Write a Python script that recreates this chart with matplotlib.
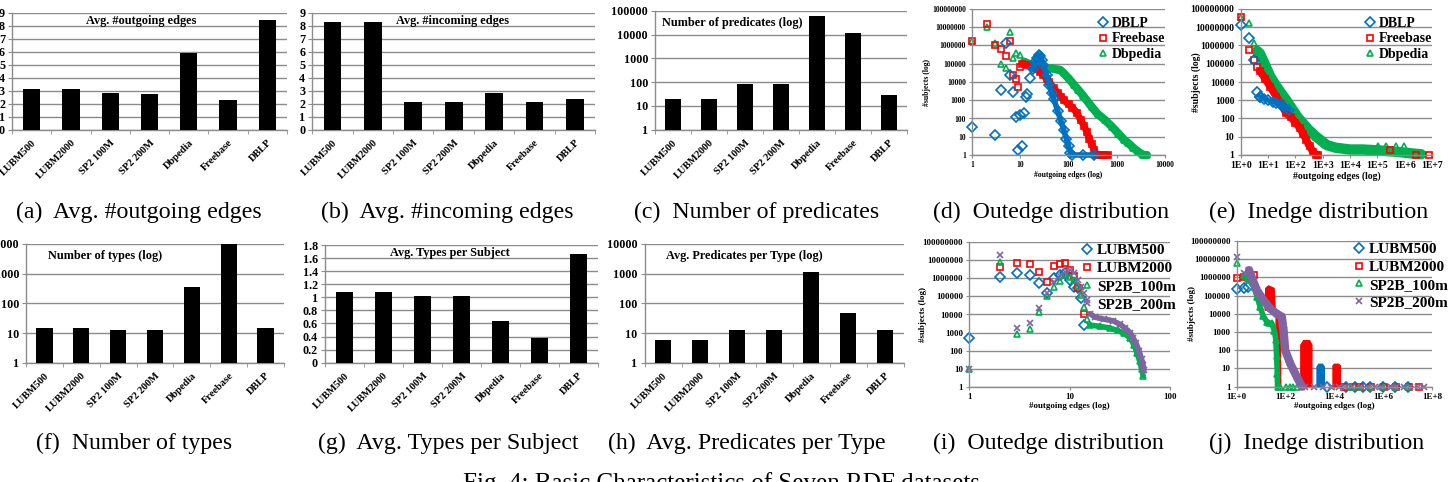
import numpy as np
import matplotlib
matplotlib.use("Agg")
import matplotlib.pyplot as plt
from matplotlib.lines import Line2D
from matplotlib.ticker import NullLocator

plt.rcParams['font.family'] = 'serif'
plt.rcParams['font.serif'] = ['Liberation Serif', 'DejaVu Serif']

# %% bar chart data
datasets = ['LUBM500', 'LUBM2000', 'SP2 100M', 'SP2 200M', 'Dbpedia', 'Freebase', 'DBLP']
avg_out_edges = [3.13, 3.13, 2.85, 2.77, 5.87, 2.28, 8.4]
avg_in_edges = [8.26, 8.26, 2.13, 2.13, 2.82, 2.13, 2.38]
num_predicates = [19, 19, 84, 84, 63000, 12000, 30]
num_types = [15, 15, 13, 13, 365, 10000, 15]
types_per_subject = [1.08, 1.08, 1.02, 1.02, 0.64, 0.38, 1.66]
preds_per_type = [5.8, 5.8, 13, 13, 1170, 46, 13]

# %% (d) outedge distribution: single points + dense band
d_dblp_x = [1, 3, 4, 5, 6, 7, 8, 9, 10, 11, 12, 13, 14, 16]
d_dblp_y = [35, 12, 3600, 1.4e6, 2.4e4, 3000, 126, 2, 150, 3, 190, 1600, 2300, 1.6e4]
d_dblp_band_x = [18, 20, 22, 24, 26, 28, 30, 35, 40, 45, 50, 60, 70, 80, 90, 100, 110, 120, 200, 330]
d_dblp_band_y = [5e4, 1.2e5, 2e5, 3e5, 2.8e5, 1.6e5, 9e4, 2.4e4, 7000, 2500, 1100, 250, 70, 23, 8, 3, 1.3, 1, 1, 1]
d_fb_x = [1, 2, 3, 4, 5, 6, 7, 8, 9, 10]
d_fb_y = [1.8e6, 1.5e7, 1.07e6, 6.2e5, 2.6e5, 1.8e6, 2.4e4, 1.4e4, 5000, 7e4]
d_fb_band_x = [11, 14, 18, 22, 26, 30, 35, 40, 50, 60, 70, 80, 100, 120, 150, 180, 210, 240, 270, 300, 340, 380, 450, 550, 670]
d_fb_band_y = [1e5, 9e4, 7e4, 5e4, 3.5e4, 2.5e4, 1.5e4, 1e4, 4500, 2500, 1600, 1000, 600, 400, 200, 80, 40, 18, 8, 4, 2, 1, 1, 1, 1]
d_dbp_x = [1, 2, 3, 4, 5, 6, 7, 8, 10]
d_dbp_y = [1.8e6, 1e7, 1.3e6, 1e5, 5.6e4, 5.5e6, 2.2e5, 3.7e5, 3e5]
d_dbp_band_x = [12, 15, 20, 28, 35, 45, 55, 67, 80, 100, 130, 160, 200, 300, 400, 570, 800, 1080, 1400, 1740, 2200, 2800, 3500, 4200]
d_dbp_band_y = [1.3e5, 1e5, 7e4, 4.6e4, 5e4, 5.6e4, 5e4, 4.6e4, 3e4, 1.6e4, 7000, 3700, 1800, 450, 180, 83, 35, 15, 7, 4.4, 2.5, 1.5, 1, 1]

# %% (e) inedge distribution
e_dblp_x = [1, 2, 3, 4, 5]
e_dblp_y = [1.3e7, 2.5e6, 1.6e5, 3000, 1600]
e_dblp_band_x = [5, 7, 10, 15, 20, 30, 40, 60]
e_dblp_band_y = [1600, 1200, 1000, 800, 700, 550, 450, 300]
e_fb_x = [1, 2, 3, 4, 280000, 2600000, 7500000]
e_fb_y = [3.5e7, 6e5, 1.6e5, 7e4, 2, 1, 1]
e_fb_band_x = [5, 8, 12, 20, 30, 47, 70, 100, 150, 190, 250, 330, 450, 580, 680]
e_fb_band_y = [4e4, 1.5e4, 5500, 1600, 600, 190, 115, 60, 29, 15, 7, 3, 1.5, 1, 1]
e_dbp_x = [1, 2, 3, 4, 110000, 210000, 490000, 980000, 3000000]
e_dbp_y = [3.5e7, 1.8e7, 1.3e6, 5e5, 3, 3, 3, 3, 1]
e_dbp_band_x = [4, 5, 8, 12, 20, 30, 47, 80, 120, 190, 300, 580, 900, 1400, 3000, 1e4, 3e4, 1e5, 3e5, 8e5, 2e6, 4e6]
e_dbp_band_y = [5e5, 3.7e5, 8e4, 2e4, 6000, 2500, 1000, 300, 120, 55, 25, 10, 6, 3.5, 2.5, 2, 2, 1.8, 1.6, 1.4, 1.2, 1.1]

# %% (i) outedge distribution, benchmarks
i_l500_x = [1, 2, 3, 4, 5, 6, 7, 8, 9, 10, 11, 12, 13, 14]
i_l500_y = [480, 1.25e6, 1.9e6, 1.6e6, 5.9e5, 1.6e5, 1e6, 1.6e6, 1.9e6, 8e5, 3.5e5, 3e5, 8e4, 2600]
i_l2000_x = [2, 3, 4, 5, 6, 7, 8, 9, 10, 11, 12, 14]
i_l2000_y = [4.5e6, 7.5e6, 6e6, 2.3e6, 6e5, 5e6, 6.5e6, 7e6, 3e6, 1.3e6, 2.8e5, 1e4]
i_sp100_x = [1, 2, 3, 4, 5, 6, 7, 8, 9, 10, 11, 12, 13, 14, 15]
i_sp100_y = [9, 8.5e6, 830, 1500, 1.3e4, 1e5, 3.5e5, 7.5e5, 1.5e6, 1.2e6, 8e5, 4e5, 1.2e5, 2.7e4, 6000]
i_sp100_band_x = [16, 20, 25, 30, 35, 40, 44, 47, 50, 52, 54]
i_sp100_band_y = [2600, 2200, 1800, 1300, 900, 500, 200, 70, 25, 10, 4]
i_sp200_x = [1, 2, 3, 4, 5, 6, 7, 8, 9, 10, 11, 12, 13, 14, 15]
i_sp200_y = [10, 2e7, 1700, 3500, 2.2e4, 1.6e5, 6e5, 1.3e6, 2.4e6, 3e6, 2e6, 8e5, 3.5e5, 1.5e5, 6e4]
i_sp200_band_x = [16, 18, 22, 27, 32, 36, 40, 43, 46, 49, 52, 54, 55]
i_sp200_band_y = [1.1e4, 7000, 5500, 4500, 2800, 1700, 1000, 500, 250, 100, 35, 15, 8]

# %% (j) inedge distribution, benchmarks (blobs = dense noisy regions, outline read off)
j_l500_x = [1, 2, 3, 5000, 30000, 70000, 150000, 300000, 1e6, 3e6, 1e7]
j_l500_y = [2.2e5, 2.5e5, 3e5, 1, 1, 1, 1, 1, 1, 1, 1]
j_l500_blob_x = [1950, 1950, 2300, 3300, 3900, 3900]
j_l500_blob_y = [1, 12, 17, 17, 12, 1]
j_l2000_x = [1, 2, 5, 25000, 60000, 110000, 320000, 1.1e6, 3.2e6, 1.1e7, 3e7]
j_l2000_y = [9e5, 1e6, 1.3e6, 1, 1, 1, 1, 1, 1, 1, 1]
j_l2000_blob1_x = [14.6, 15.5, 20, 34, 37.6, 60, 64, 41, 41]
j_l2000_blob1_y = [1.6e4, 2.5e5, 3.4e5, 2.5e5, 2e4, 2000, 1, 1, 1.6e4]
j_l2000_blob2_x = [424, 424, 550, 970, 1200, 1200]
j_l2000_blob2_y = [1, 195, 335, 335, 195, 1]
j_l2000_blob3_x = [8800, 8800, 10000, 15000, 17600, 17600]
j_l2000_blob3_y = [1, 14, 17, 17, 14, 1]
j_sp100_x = [1, 2, 60, 100, 150, 200, 300, 50000, 100000, 300000, 1e6, 3e6, 1e7]
j_sp100_y = [6e6, 1.3e6, 1, 1, 1, 1, 1, 1, 1, 1, 1, 1, 1]
j_sp100_band_x = [2, 3, 5, 7, 9, 12, 17, 22, 27, 35, 40, 43, 46, 47]
j_sp100_band_y = [1.3e6, 8e5, 3e5, 8e4, 2.5e4, 8000, 3700, 3000, 3000, 1200, 370, 50, 5, 1]
j_sp200_x = [1, 2, 650, 1400, 3300, 7000, 16000, 28000, 55000, 120000, 230000, 480000, 900000, 2e6, 3.5e6, 7e6, 1.3e7, 2.6e7, 4.5e7]
j_sp200_y = [1.4e7, 1.7e6, 1, 1, 1, 1, 1, 1, 1, 1, 1, 1, 1, 1, 1, 1, 1, 1, 1]
j_sp200_band_x = [3.2, 6.6, 12.5, 23, 44, 70, 83, 97, 155, 290, 470]
j_sp200_band_y = [2.5e6, 2e5, 5.7e4, 2e4, 1e4, 7000, 1300, 100, 19, 3.5, 1]

# %% styling
W, H = 1456, 482
BLUE, RED, GREEN, PURPLE = '#0070C0', '#FF0000', '#00B050', '#8064A2'
GRID = '#8C8C8C'

fig = plt.figure(figsize=(W / 100, H / 100), dpi=100)


def add_ax(l, t, r, b):
    return fig.add_axes([l / W, 1 - b / H, (r - l) / W, (b - t) / H])


def style_axes(ax):
    for s in ['top', 'right']:
        ax.spines[s].set_visible(False)
    for s in ['left', 'bottom']:
        ax.spines[s].set_color(GRID)
        ax.spines[s].set_linewidth(1.0)
    ax.grid(axis='y', color=GRID, lw=1.0)
    ax.set_axisbelow(True)


def bar_panel(rect, vals, log, yticks, ylabels):
    ax = add_ax(*rect)
    x = np.arange(len(datasets))
    ax.bar(x, vals, width=0.44, color='black', zorder=3, log=log)
    style_axes(ax)
    ax.set_xlim(-0.5, len(datasets) - 0.5)
    ax.set_ylim(yticks[0], yticks[-1])
    ax.set_yticks(yticks, ylabels)
    ax.yaxis.set_minor_locator(NullLocator())
    ax.set_xticks(x, datasets)
    ax.set_xticks(np.arange(len(datasets) + 1) - 0.5, minor=True)
    ax.tick_params(axis='x', which='major', length=0, pad=6)
    ax.tick_params(axis='x', which='minor', length=3, color=GRID)
    ax.tick_params(axis='y', length=3, color=GRID, pad=2, labelsize=8.7)
    for lbl in ax.get_yticklabels():
        lbl.set_fontweight('bold')
    for lbl in ax.get_xticklabels():
        lbl.set_rotation(45)
        lbl.set_ha('right')
        lbl.set_va('top')
        lbl.set_rotation_mode('anchor')
        lbl.set_fontsize(7.5)
        lbl.set_fontweight('bold')
    return ax


def scatter_panel(rect, xticks, xlabels, fs):
    ax = add_ax(*rect)
    ax.set_xscale('log')
    ax.set_yscale('log')
    style_axes(ax)
    ax.set_xlim(xticks[0], xticks[-1])
    ax.set_ylim(1, 1e8)
    yt = [10 ** k for k in range(9)]
    ax.set_yticks(yt, [str(v) for v in yt])
    ax.set_xticks(xticks, xlabels)
    ax.xaxis.set_minor_locator(NullLocator())
    ax.yaxis.set_minor_locator(NullLocator())
    ax.tick_params(length=2.5, color=GRID, pad=2, labelsize=fs)
    for lbl in ax.get_xticklabels() + ax.get_yticklabels():
        lbl.set_fontweight('bold')
    ax.set_xlabel('#outgoing edges (log)', fontsize=fs, fontweight='bold', labelpad=1)
    ax.set_ylabel('#subjects (log)', fontsize=fs, fontweight='bold')
    ax.yaxis.set_label_coords(-0.21, 0.5)
    return ax


def draw(ax, x, y, color, marker, bx=None, by=None, lw=4):
    mk = dict(ls='none', marker=marker, ms=5, mfc='none', mec=color, mew=1.2, clip_on=False)
    if bx is not None:
        ax.plot(bx, by, color=color, lw=lw, solid_capstyle='round', solid_joinstyle='round', clip_on=False)
        ax.plot(bx, by, **mk)
    ax.plot(x, y, **mk)


def legend(ax, names, colors, markers, anchor, size, spacing):
    handles = [Line2D([], [], ls='none', marker=m, ms=5, mfc='none', mec=c, mew=1.2)
               for c, m in zip(colors, markers)]
    ax.legend(handles, names, loc='upper right', bbox_to_anchor=anchor, frameon=False,
              prop=dict(weight='bold', size=size), handlelength=0.8, handletextpad=0.25,
              labelspacing=spacing, borderaxespad=0, borderpad=0)


# %% bar charts
bar_panel((12, 12.7, 287, 129.7), avg_out_edges, False, list(range(10)), [str(v) for v in range(10)])
bar_panel((312.3, 12.7, 595, 129.7), avg_in_edges, False, list(range(10)), [str(v) for v in range(10)])
lt5 = [1, 10, 100, 1000, 10000, 100000]
bar_panel((655, 11, 907, 129.7), num_predicates, True, lt5, [str(v) for v in lt5])
lt4 = [1, 10, 100, 1000, 10000]
bar_panel((26, 244, 284, 362.7), num_types, True, lt4, [str(v) for v in lt4])
gt = [round(0.2 * k, 1) for k in range(10)]
bar_panel((325, 245, 598, 362.7), types_per_subject, False, gt, ['0', '0.2', '0.4', '0.6', '0.8', '1', '1.2', '1.4', '1.6', '1.8'])
bar_panel((644.5, 244, 903.5, 362.7), preds_per_type, True, lt4, [str(v) for v in lt4])

titles = [('Avg. #outgoing edges', 141, 21, 'center'),
          ('Avg. #incoming edges', 453, 21, 'center'),
          ('Number of predicates (log)', 662, 23, 'left'),
          ('Number of types (log)', 48, 256, 'left'),
          ('Avg. Types per Subject', 450, 253, 'center'),
          ('Avg. Predicates per Type (log)', 666, 256, 'left')]
for t, x, y, ha in titles:
    fig.text(x / W, 1 - y / H, t, ha=ha, va='center', fontsize=8.8, fontweight='bold')

# %% scatter charts
ax = scatter_panel((972, 9, 1165, 155), [1, 10, 100, 1000, 10000], ['1', '10', '100', '1000', '10000'], 5.5)
draw(ax, d_dbp_x, d_dbp_y, GREEN, '^', d_dbp_band_x, d_dbp_band_y, lw=6)
draw(ax, d_fb_x, d_fb_y, RED, 's', d_fb_band_x, d_fb_band_y, lw=5)
draw(ax, d_dblp_x, d_dblp_y, BLUE, 'D', d_dblp_band_x, d_dblp_band_y, lw=4)
legend(ax, ['DBLP', 'Freebase', 'Dbpedia'], [BLUE, RED, GREEN], ['D', 's', '^'], (1.0, 0.945), 10, 0.17)

ex = [10 ** k for k in range(8)]
ax = scatter_panel((1240.7, 9, 1432, 155), ex, ['1E+%d' % k for k in range(8)], 7)
draw(ax, e_dbp_x, e_dbp_y, GREEN, '^', e_dbp_band_x, e_dbp_band_y, lw=7.5)
draw(ax, e_fb_x, e_fb_y, RED, 's', e_fb_band_x, e_fb_band_y, lw=5.5)
draw(ax, e_dblp_x, e_dblp_y, BLUE, 'D', e_dblp_band_x, e_dblp_band_y, lw=3)
legend(ax, ['DBLP', 'Freebase', 'Dbpedia'], [BLUE, RED, GREEN], ['D', 's', '^'], (1.0, 0.945), 10, 0.17)

ax = scatter_panel((969.3, 242.3, 1170, 386.7), [1, 10, 100], ['1', '10', '100'], 6.5)
draw(ax, i_l500_x, i_l500_y, BLUE, 'D')
draw(ax, i_l2000_x, i_l2000_y, RED, 's')
draw(ax, i_sp100_x, i_sp100_y, GREEN, '^', i_sp100_band_x, i_sp100_band_y, lw=4)
draw(ax, i_sp200_x, i_sp200_y, PURPLE, 'x', i_sp200_band_x, i_sp200_band_y, lw=4)
legend(ax, ['LUBM500', 'LUBM2000', 'SP2B_100m', 'SP2B_200m'], [BLUE, RED, GREEN, PURPLE], ['D', 's', '^', 'x'], (1.03, 0.99), 11, 0.27)

jx = [1, 1e2, 1e4, 1e6, 1e8]
ax = scatter_panel((1236.7, 241, 1432, 386.7), jx, ['1E+0', '1E+2', '1E+4', '1E+6', '1E+8'], 6.5)
ax.fill(j_l500_blob_x, j_l500_blob_y, color=BLUE, clip_on=False)
draw(ax, j_l500_x, j_l500_y, BLUE, 'D')
for bx, by in [(j_l2000_blob1_x, j_l2000_blob1_y), (j_l2000_blob2_x, j_l2000_blob2_y), (j_l2000_blob3_x, j_l2000_blob3_y)]:
    ax.fill(bx, by, color=RED, clip_on=False)
draw(ax, j_l2000_x, j_l2000_y, RED, 's')
draw(ax, j_sp100_x, j_sp100_y, GREEN, '^', j_sp100_band_x, j_sp100_band_y, lw=4)
draw(ax, j_sp200_x, j_sp200_y, PURPLE, 'x', j_sp200_band_x, j_sp200_band_y, lw=6)
legend(ax, ['LUBM500', 'LUBM2000', 'SP2B_100m', 'SP2B_200m'], [BLUE, RED, GREEN, PURPLE], ['D', 's', '^', 'x'], (1.08, 0.99), 11, 0.27)

# %% captions
captions = [('(a)  Avg. #outgoing edges', 139, 212), ('(b)  Avg. #incoming edges', 447, 212),
            ('(c)  Number of predicates', 757, 212), ('(d)  Outedge distribution', 1051, 212),
            ('(e)  Inedge distribution', 1319, 212), ('(f)  Number of types', 134, 443),
            ('(g)  Avg. Types per Subject', 448, 443), ('(h)  Avg. Predicates per Type', 747, 443),
            ('(i)  Outedge distribution', 1048, 443), ('(j)  Inedge distribution', 1317, 443)]
for t, x, y in captions:
    fig.text(x / W, 1 - y / H, t, ha='center', va='center', fontsize=17.2)
fig.text(721 / W, 1 - 490 / H, 'Fig. 4: Basic Characteristics of Seven RDF datasets',
         ha='center', va='baseline', fontsize=18)

fig.savefig('out.png', dpi=100)
